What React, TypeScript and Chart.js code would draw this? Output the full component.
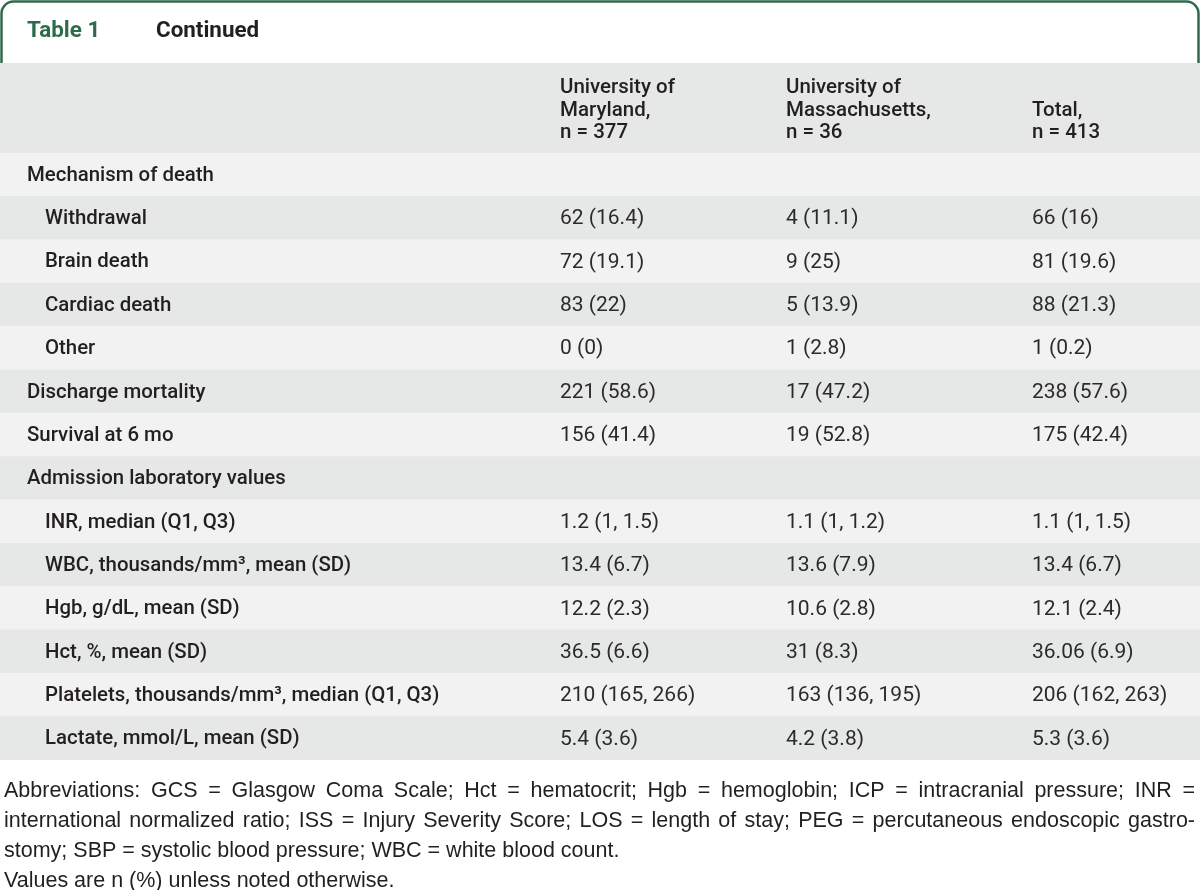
import React, { useEffect, useRef } from "react";
import { Chart, registerables } from "chart.js";

Chart.register(...registerables);

// ---------- data ----------
const rowLabels = [
  "Mechanism of death",
  "Withdrawal",
  "Brain death",
  "Cardiac death",
  "Other",
  "Discharge mortality",
  "Survival at 6 mo",
  "Admission laboratory values",
  "INR, median (Q1, Q3)",
  "WBC, thousands/mm³, mean (SD)",
  "Hgb, g/dL, mean (SD)",
  "Hct, %, mean (SD)",
  "Platelets, thousands/mm³, median (Q1, Q3)",
  "Lactate, mmol/L, mean (SD)",
];
const rowIndent = [0, 1, 1, 1, 1, 0, 0, 0, 1, 1, 1, 1, 1, 1];

const marylandValues = ["", "62 (16.4)", "72 (19.1)", "83 (22)", "0 (0)", "221 (58.6)", "156 (41.4)", "", "1.2 (1, 1.5)", "13.4 (6.7)", "12.2 (2.3)", "36.5 (6.6)", "210 (165, 266)", "5.4 (3.6)"];
const massachusettsValues = ["", "4 (11.1)", "9 (25)", "5 (13.9)", "1 (2.8)", "17 (47.2)", "19 (52.8)", "", "1.1 (1, 1.2)", "13.6 (7.9)", "10.6 (2.8)", "31 (8.3)", "163 (136, 195)", "4.2 (3.8)"];
const totalValues = ["", "66 (16)", "81 (19.6)", "88 (21.3)", "1 (0.2)", "238 (57.6)", "175 (42.4)", "", "1.1 (1, 1.5)", "13.4 (6.7)", "12.1 (2.4)", "36.06 (6.9)", "206 (162, 263)", "5.3 (3.6)"];

const columnHeaders = [
  ["University of", "Maryland,", "n = 377"],
  ["University of", "Massachusetts,", "n = 36"],
  ["Total,", "n = 413"],
];

const tableNumber = "Table 1";
const tableTitle = "Continued";

const footnoteLines = [
  "Abbreviations: GCS = Glasgow Coma Scale; Hct = hematocrit; Hgb = hemoglobin; ICP = intracranial pressure; INR =",
  "international normalized ratio; ISS = Injury Severity Score; LOS = length of stay; PEG = percutaneous endoscopic gastro-",
  "stomy; SBP = systolic blood pressure; WBC = white blood count.",
  "Values are n (%) unless noted otherwise.",
];
const footnoteJustify = [true, true, false, false];

// ---------- layout / style ----------
const W = 1200;
const H = 890;
const COL_X = [560, 786, 1032];
const LABEL_X = 27;
const INDENT_X = 45;
const NOTE_LEFT = 4;
const NOTE_RIGHT = 1195;
const GREEN = "#2e6b4c";
const INK = "#231f20";
const DARK_ROW = "#e6e8e7";
const LIGHT_ROW = "#f2f2f2";
const HEADER_TOP = 63;
const TABLE_TOP = 153;
const TABLE_BOTTOM = 760;

const LABEL_FONT = "500 20.4px Roboto";
const VALUE_FONT = "400 21px Roboto";
const HEADER_FONT = "500 20.5px Roboto";
const TITLE_FONT = "700 22.4px Roboto";
const NOTE_FONT = "400 21.5px 'Liberation Sans'";

const tablePlugin = {
  id: "tablePlugin",
  afterDatasetsDraw(chart: any) {
    const ctx = chart.ctx as CanvasRenderingContext2D;
    const xs = chart.scales.x;
    const ys = chart.scales.y;
    ctx.save();

    // header band
    ctx.fillStyle = DARK_ROW;
    ctx.fillRect(0, HEADER_TOP, W, chart.chartArea.top - HEADER_TOP);

    // tab border
    ctx.strokeStyle = GREEN;
    ctx.lineWidth = 2.5;
    const r = 12;
    ctx.beginPath();
    ctx.moveTo(1.5, HEADER_TOP);
    ctx.lineTo(1.5, 1.5 + r);
    ctx.arcTo(1.5, 1.5, 1.5 + r, 1.5, r);
    ctx.lineTo(W - 1.5 - r, 1.5);
    ctx.arcTo(W - 1.5, 1.5, W - 1.5, 1.5 + r, r);
    ctx.lineTo(W - 1.5, HEADER_TOP);
    ctx.stroke();

    // title
    ctx.textBaseline = "middle";
    ctx.textAlign = "left";
    ctx.font = TITLE_FONT;
    ctx.fillStyle = GREEN;
    ctx.fillText(tableNumber, LABEL_X, 31);
    ctx.fillStyle = INK;
    ctx.fillText(tableTitle, 156, 31);

    // column headers (bottom-aligned)
    ctx.font = HEADER_FONT;
    ctx.fillStyle = INK;
    const lastLineY = 133;
    const lineGap = 22.5;
    columnHeaders.forEach((lines, j) => {
      const x = xs.getPixelForValue(COL_X[j]);
      lines.forEach((t, k) => {
        const y = lastLineY - (lines.length - 1 - k) * lineGap;
        ctx.fillText(t, x, y);
      });
    });

    // rows
    rowLabels.forEach((label, i) => {
      const y = ys.getPixelForValue(i) + 1;
      ctx.font = LABEL_FONT;
      ctx.fillStyle = INK;
      ctx.fillText(label, xs.getPixelForValue(rowIndent[i] ? INDENT_X : LABEL_X), y);
      ctx.font = VALUE_FONT;
      ctx.fillStyle = "#2b2b2b";
      [marylandValues, massachusettsValues, totalValues].forEach((col, j) => {
        if (col[i]) ctx.fillText(col[i], xs.getPixelForValue(COL_X[j]), y);
      });
    });

    // footnote
    ctx.font = NOTE_FONT;
    ctx.fillStyle = INK;
    const noteTop = chart.chartArea.bottom + 31;
    footnoteLines.forEach((line, k) => {
      const y = noteTop + k * 30;
      if (footnoteJustify[k]) {
        const words = line.split(" ");
        const wordsW = words.reduce((s, w) => s + ctx.measureText(w).width, 0);
        const gap = (NOTE_RIGHT - NOTE_LEFT - wordsW) / (words.length - 1);
        let x = NOTE_LEFT;
        words.forEach((w) => {
          ctx.fillText(w, x, y);
          x += ctx.measureText(w).width + gap;
        });
      } else {
        ctx.fillText(line, NOTE_LEFT, y);
      }
    });

    ctx.restore();
  },
};

export default function App() {
  const ref = useRef<HTMLCanvasElement | null>(null);

  useEffect(() => {
    document.body.style.margin = "0";
    if (!ref.current) return;
    const chart = new Chart(ref.current, {
      type: "bar",
      data: {
        labels: rowLabels,
        datasets: [
          {
            data: rowLabels.map(() => [0, W]) as any,
            backgroundColor: rowLabels.map((_, i) => (i % 2 === 0 ? LIGHT_ROW : DARK_ROW)),
            borderWidth: 0,
            barPercentage: 1,
            categoryPercentage: 1,
          },
        ],
      },
      options: {
        indexAxis: "y",
        responsive: false,
        animation: false,
        events: [],
        layout: { padding: { top: TABLE_TOP, bottom: H - TABLE_BOTTOM, left: 0, right: 0 } },
        plugins: { legend: { display: false }, tooltip: { enabled: false } },
        scales: {
          x: { type: "linear", min: 0, max: W, display: false },
          y: { type: "category", display: false, offset: true, grid: { display: false } },
        },
      },
      plugins: [tablePlugin],
    });
    return () => chart.destroy();
  }, []);

  return (
    <div style={{ width: W, height: H, background: "#ffffff" }}>
      <canvas ref={ref} width={W} height={H} style={{ display: "block", width: W, height: H }} />
    </div>
  );
}
